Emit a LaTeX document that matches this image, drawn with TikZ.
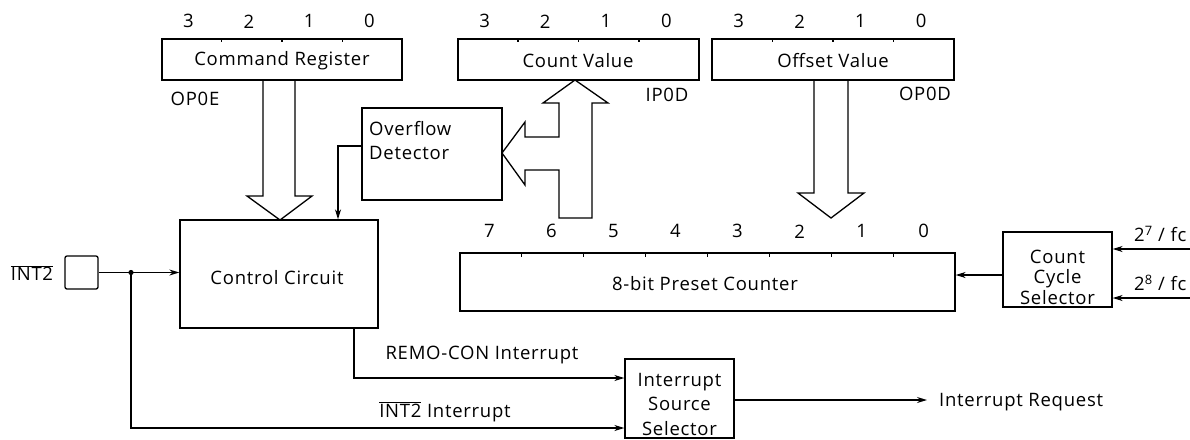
\documentclass[tikz,border=0pt]{standalone}
\usepackage{fontspec}
\setmainfont{Open Sans}[LetterSpace=4]
\usetikzlibrary{arrows.meta,calc}
\begin{document}
\begin{tikzpicture}[x=1pt,y=-1pt,
  lw/.style={line width=1.3pt},
  box/.style={draw, lw, inner sep=0pt, align=center},
  lbl/.style={inner sep=0pt, align=center, font=\fontsize{18.5}{22}\selectfont},
  arr/.style={lw, -{Stealth[length=10pt,width=6pt]}},
  hollow/.style={lw, line join=miter},
  tick/.style={lw}
]
\useasboundingbox (0,0) rectangle (1190,439);

% registers
\node[box, minimum width=240pt, minimum height=41pt] (cr) at (282,59.5) {};
\node[box, minimum width=241pt, minimum height=41pt] (cv) at (578.5,59.5) {};
\node[box, minimum width=242pt, minimum height=41pt] (ov) at (833,59.5) {};
\node[lbl] (crt) at (282,61) {Command Register};
\node[lbl] (cvt) at (578,61) {Count Value};
\node[lbl] (ovt) at (833,61) {Offset Value};

\foreach \r in {cr,cv,ov}{
  \foreach \i in {1,2,3}
    \draw[tick] ($(\r.north west)!\i/4!(\r.north east)$) -- ++(0,4);
  \foreach \b [count=\i] in {3,2,1,0}
    \node[lbl] at ($($(\r.north west)!{(2*\i-1)/8}!(\r.north east)$)+(-3,-17)$) {\b};
}
\node[lbl] (op0e) at (195,99) {OP0E};
\node[lbl] (ip0d) at (667,95) {IP0D};
\node[lbl] (op0d) at (925,94) {OP0D};

% overflow detector
\node[box, minimum width=140pt, minimum height=92pt] (od) at (432,154) {};
\node[lbl, anchor=west] (odt1) at (369,129) {Overflow};
\node[lbl, anchor=west] (odt2) at (369,153) {Detector};

% control circuit
\node[box, minimum width=198pt, minimum height=108pt] (cc) at (279,274) {};
\node[lbl] (cct) at (277,278) {Control Circuit};

% INT2 pin
\node[lbl] (int2) at (32,273) {$\overline{\mbox{INT2}}$};
\node[box, minimum width=33pt, minimum height=33pt, rounded corners=2pt] (pin) at (81.5,272.5) {};
\coordinate (jn) at (131,272.5);
\draw[lw] (pin.east) -- (jn);
\draw[arr] (jn) -- (cc.west |- jn);
\fill (jn) circle (2.6);

% preset counter
\node[box, minimum width=495pt, minimum height=58pt] (cnt) at (707.5,282) {};
\node[lbl] (cntt) at (705,284) {8-bit Preset Counter};
\foreach \i in {1,...,7}
  \draw[tick] ($(cnt.north west)!\i/8!(cnt.north east)$) -- ++(0,5);
\foreach \b [count=\i] in {7,6,5,4,3,2,1,0}
  \node[lbl] at ($($(cnt.north west)!{(2*\i-1)/16}!(cnt.north east)$)+(-1,-21)$) {\b};

% count cycle selector
\node[box, minimum width=109pt, minimum height=75pt] (ccs) at (1057.5,269.5) {};
\node[lbl, font=\fontsize{18.5}{20.5}\selectfont] (ccst) at (1057.5,277) {Count\\Cycle\\Selector};
\draw[arr] ([yshift=-5.5pt]ccs.west) coordinate (ca) -- (ca -| cnt.east);
\coordinate (in7) at (1190,249);
\coordinate (in8) at (1190,298);
\draw[arr] (in7) -- (in7 -| ccs.east);
\draw[arr] (in8) -- (in8 -| ccs.east);
\node[lbl, anchor=west] (f7) at (1134,234) {2\textsuperscript{7} / fc};
\node[lbl, anchor=west] (f8) at (1134,283) {2\textsuperscript{8} / fc};

% interrupt source selector
\node[box, minimum width=109pt, minimum height=79pt] (iss) at (679.5,398.5) {};
\node[lbl, font=\fontsize{18.5}{24.5}\selectfont] (isst) at (679.5,404) {Interrupt\\Source\\Selector};
\draw[arr] ([xshift=75pt]cc.south) |- ([yshift=20.5pt]iss.west);
\draw[arr] (jn) |- ([yshift=-29.5pt]iss.west);
\node[lbl] (remo) at (482,355) {REMO-CON Interrupt};
\node[lbl] (i2i) at (445,412) {$\overline{\mbox{INT2}}$ Interrupt};
\node[lbl, anchor=west] (req) at (939,402) {Interrupt Request};
\coordinate (reqin) at (927,400);
\draw[arr] (iss.east |- reqin) -- (reqin);

% overflow detector to control circuit
\draw[arr] ([yshift=8pt]od.west) -| ([xshift=59pt]cc.north);

% hollow bus arrows
\draw[hollow] (cr.south -| 263,0) -- (263,196) -- (247,196) -- (280,220) -- (312,196) -- (295,196) -- (cr.south -| 295,0);
\draw[hollow] (ov.south -| 814,0) -- (814,193) -- (798,193) -- (831,218) -- (864,193) -- (848,193) -- (ov.south -| 848,0);
\draw[hollow] (575,80) -- (608,103) -- (592,103) -- (592,218) -- (559,218) -- (559,170) -- (525,170) -- (525,185) -- (502,153) -- (525,122) -- (525,137) -- (559,137) -- (559,103) -- (543,103) -- cycle;
\end{tikzpicture}
\end{document}
